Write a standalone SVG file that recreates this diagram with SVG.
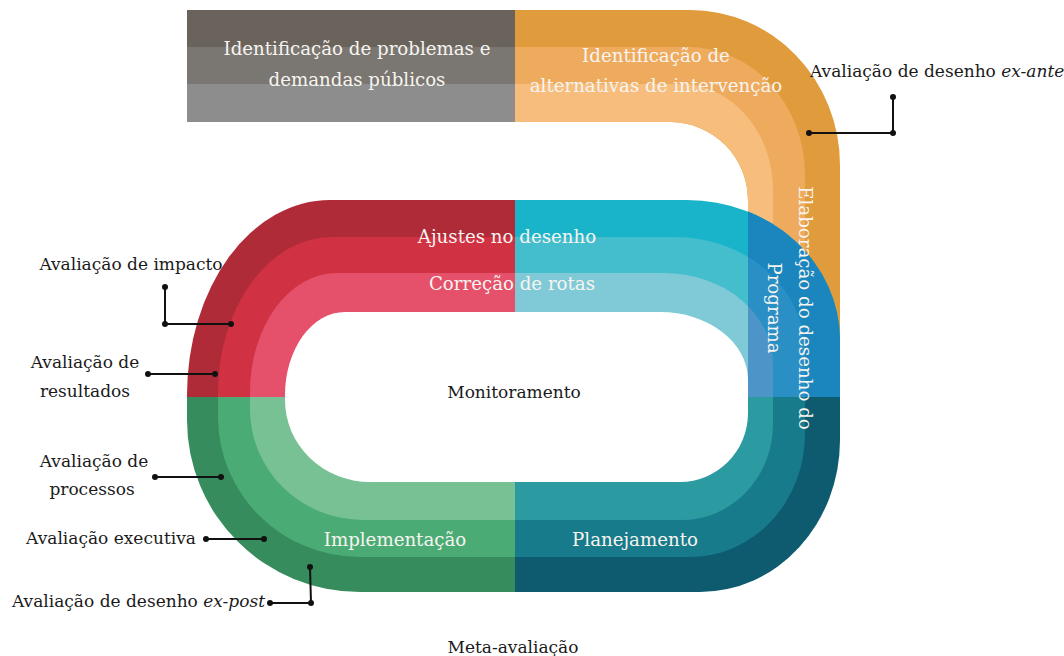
<svg xmlns="http://www.w3.org/2000/svg" xmlns:xlink="http://www.w3.org/1999/xlink" width="1064" height="656" viewBox="0 0 1064 656">
<style>
  .t { font-family: "DejaVu Serif", "Liberation Serif", serif; font-size: 17px; }
  .w { fill: #f7f4f0; text-anchor: middle; font-size: 18.2px; }
  .k { fill: #1a1a1a; }
  .c { text-anchor: middle; }
  .ln { stroke: #111; stroke-width: 2; fill: none; }
  .dot { fill: #111; }
</style>
<defs>
  <path id="pO" d="M330,200 H687 A153,140 0 0 1 840,340 V440 A140,152 0 0 1 700,592 H360 A173,172 0 0 1 187,420 V395 A143,195 0 0 1 330,200 Z"/>
  <path id="pM" d="M332,237 H675 A130,115 0 0 1 805,352 V434 A115,123 0 0 1 690,557 H360 A142,140 0 0 1 218,417 V393 A114,156 0 0 1 332,237 Z"/>
  <path id="pI" d="M337,273 H664 A109,91 0 0 1 773,364 V424 A91,96 0 0 1 682,520 H363 A113,111 0 0 1 250,409 V392 A87,119 0 0 1 337,273 Z"/>
  <path id="pH" d="M345,312 H660 A88,68 0 0 1 748,380 V413 A68,69 0 0 1 680,482 H370 A85,82 0 0 1 285,400 V395 A60,83 0 0 1 345,312 Z"/>
  <clipPath id="cpRed"><rect x="0" y="0" width="515" height="397"/></clipPath>
  <clipPath id="cpBlue"><rect x="515" y="0" width="549" height="397"/></clipPath>
  <clipPath id="cpBlue2"><rect x="748" y="0" width="316" height="397"/></clipPath>
  <clipPath id="cpGreen"><rect x="0" y="397" width="515" height="259"/></clipPath>
  <clipPath id="cpTeal"><rect x="515" y="397" width="549" height="259"/></clipPath>
</defs>
<rect width="1064" height="656" fill="#ffffff"/>

<g id="node-problemas">
  <rect x="187" y="10" width="328" height="38" fill="#69635c"/>
  <rect x="187" y="47" width="328" height="38" fill="#7a7671"/>
  <rect x="187" y="84" width="328" height="38" fill="#8c8d8c"/>
</g>

<g id="node-alternativas">
  <path d="M515,10 H690 A150,155 0 0 1 840,165 V400 H748 V200 A78,78 0 0 0 670,122 H515 Z" fill="#e09b3c"/>
  <path d="M515,47 H688 A117,128 0 0 1 805,175 V400 H748 V200 A78,78 0 0 0 670,122 H515 Z" fill="#efab5d"/>
  <path d="M515,84 H680 A93,106 0 0 1 773,190 V400 H748 V200 A78,78 0 0 0 670,122 H515 Z" fill="#f7bd7c"/>
</g>

<g id="node-ajustes">
  <g clip-path="url(#cpRed)">
    <use xlink:href="#pO" fill="#b02b38"/>
    <use xlink:href="#pM" fill="#d03143"/>
    <use xlink:href="#pI" fill="#e5506a"/>
  </g>
</g>
<g id="node-correcao">
  <g clip-path="url(#cpBlue)">
    <use xlink:href="#pO" fill="#19b4c9"/>
    <use xlink:href="#pM" fill="#44bdcd"/>
    <use xlink:href="#pI" fill="#7fcad6"/>
  </g>
  <g clip-path="url(#cpBlue2)">
    <use xlink:href="#pO" fill="#1a86bd"/>
    <use xlink:href="#pM" fill="#2a8fc5"/>
    <use xlink:href="#pI" fill="#4d95c8"/>
  </g>
</g>
<g id="node-implementacao">
  <g clip-path="url(#cpGreen)">
    <use xlink:href="#pO" fill="#368c5d"/>
    <use xlink:href="#pM" fill="#4aac74"/>
    <use xlink:href="#pI" fill="#77c195"/>
  </g>
</g>
<g id="node-planejamento">
  <g clip-path="url(#cpTeal)">
    <use xlink:href="#pO" fill="#0e5b70"/>
    <use xlink:href="#pM" fill="#177b8b"/>
    <use xlink:href="#pI" fill="#2b9aa1"/>
  </g>
</g>
<g id="node-monitoramento">
  <use xlink:href="#pH" fill="#ffffff"/>
  <text class="t k c" x="514" y="398">Monitoramento</text>
</g>

<g id="labels-stages">
  <text class="t w" x="357" y="55">Identificação de problemas e</text>
  <text class="t w" x="357" y="86">demandas públicos</text>
  <text class="t w" x="656" y="62">Identificação de</text>
  <text class="t w" x="656" y="92">alternativas de intervenção</text>
  <text class="t w" transform="translate(799,308) rotate(90)">Elaboração do desenho do</text>
  <text class="t w" transform="translate(768,308) rotate(90)">Programa</text>
  <text class="t w" x="507" y="243">Ajustes no desenho</text>
  <text class="t w" x="512" y="290">Correção de rotas</text>
  <text class="t w" x="395" y="546">Implementação</text>
  <text class="t w" x="635" y="546">Planejamento</text>
</g>

<g id="labels-evaluation">
  <text class="t k" x="810" y="77">Avaliação de desenho <tspan font-style="italic">ex-ante</tspan></text>
  <text class="t k c" x="131" y="270">Avaliação de impacto</text>
  <text class="t k c" x="85" y="368">Avaliação de</text>
  <text class="t k c" x="85" y="397">resultados</text>
  <text class="t k c" x="94" y="467">Avaliação de</text>
  <text class="t k c" x="92" y="495">processos</text>
  <text class="t k c" x="111" y="544">Avaliação executiva</text>
  <text class="t k" x="12" y="607">Avaliação de desenho <tspan font-style="italic">ex-post</tspan></text>
  <text class="t k c" x="513" y="653">Meta-avaliação</text>
</g>

<g id="connectors">
  <polyline class="ln" points="809,133 893,133 893,97"/>
  <circle class="dot" cx="809" cy="133" r="3"/><circle class="dot" cx="893" cy="133" r="3"/><circle class="dot" cx="893" cy="97" r="3"/>
  <polyline class="ln" points="165,287 165,324 231,324"/>
  <circle class="dot" cx="165" cy="287" r="3"/><circle class="dot" cx="165" cy="324" r="3"/><circle class="dot" cx="231" cy="324" r="3"/>
  <line class="ln" x1="148" y1="374" x2="215" y2="374"/>
  <circle class="dot" cx="148" cy="374" r="3"/><circle class="dot" cx="215" cy="374" r="3"/>
  <line class="ln" x1="155" y1="477" x2="221" y2="477"/>
  <circle class="dot" cx="155" cy="477" r="3"/><circle class="dot" cx="221" cy="477" r="3"/>
  <line class="ln" x1="206" y1="539" x2="264" y2="539"/>
  <circle class="dot" cx="206" cy="539" r="3"/><circle class="dot" cx="264" cy="539" r="3"/>
  <polyline class="ln" points="270,603 311,603 310,567"/>
  <circle class="dot" cx="270" cy="603" r="3"/><circle class="dot" cx="311" cy="603" r="3"/><circle class="dot" cx="310" cy="567" r="3"/>
</g>
</svg>
